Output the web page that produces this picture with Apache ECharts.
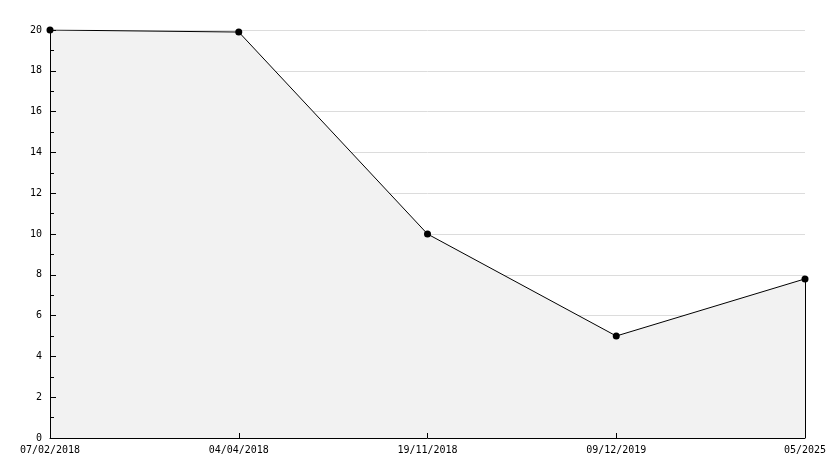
<!DOCTYPE html>
<html><head><meta charset="utf-8">
<script src="https://cdn.jsdelivr.net/npm/echarts@6/dist/echarts.min.js"></script>
<style>html,body{margin:0;padding:0;background:#fff}#c{width:834px;height:468px}</style>
</head><body><div id="c"></div>
<script>
const categories = ['07/02/2018', '04/04/2018', '19/11/2018', '09/12/2019', '05/2025'];
const values = [20, 19.9, 10, 5, 7.8];
const yTicks = {min: 0, max: 20, interval: 2};

const chart = echarts.init(document.getElementById('c'));
const font = {fontFamily: 'DejaVu Sans Mono', fontSize: 10, color: '#000'};
chart.setOption({
  animation: false,
  grid: {left: 50, right: 29, top: 30, bottom: 30},
  xAxis: {
    type: 'category', data: categories, boundaryGap: false, z: 10,
    axisLine: {lineStyle: {color: '#000', width: 1}},
    axisTick: {inside: true, length: 5, lineStyle: {color: '#000'}},
    axisLabel: Object.assign({margin: 7, interval: 0}, font),
    splitLine: {show: false}
  },
  yAxis: [{
    type: 'value', min: yTicks.min, max: yTicks.max, interval: yTicks.interval, z: 0,
    axisLine: {show: false}, axisTick: {show: false}, axisLabel: {show: false},
    splitLine: {show: true, lineStyle: {color: '#dcdcdc', width: 1}}
  }, {
    type: 'value', min: yTicks.min, max: yTicks.max, interval: yTicks.interval, z: 10,
    position: 'left',
    axisLine: {show: true, lineStyle: {color: '#000', width: 1}},
    axisTick: {show: true, inside: true, length: 6, lineStyle: {color: '#000'}},
    minorTick: {show: true, splitNumber: 2, length: 4, lineStyle: {color: '#000'}},
    axisLabel: Object.assign({margin: 8}, font),
    splitLine: {show: false}
  }],
  series: [{
    type: 'line', data: values, yAxisIndex: 0,
    symbol: 'circle', symbolSize: 7,
    itemStyle: {color: '#000'},
    lineStyle: {color: '#000', width: 1},
    areaStyle: {color: '#f2f2f2', opacity: 1},
    markLine: {
      silent: true, symbol: 'none', label: {show: false},
      lineStyle: {color: '#000', width: 1, type: 'solid'},
      data: [[{coord: [categories[categories.length - 1], values[values.length - 1]]},
              {coord: [categories[categories.length - 1], 0]}]]
    }
  }]
});
</script></body></html>
